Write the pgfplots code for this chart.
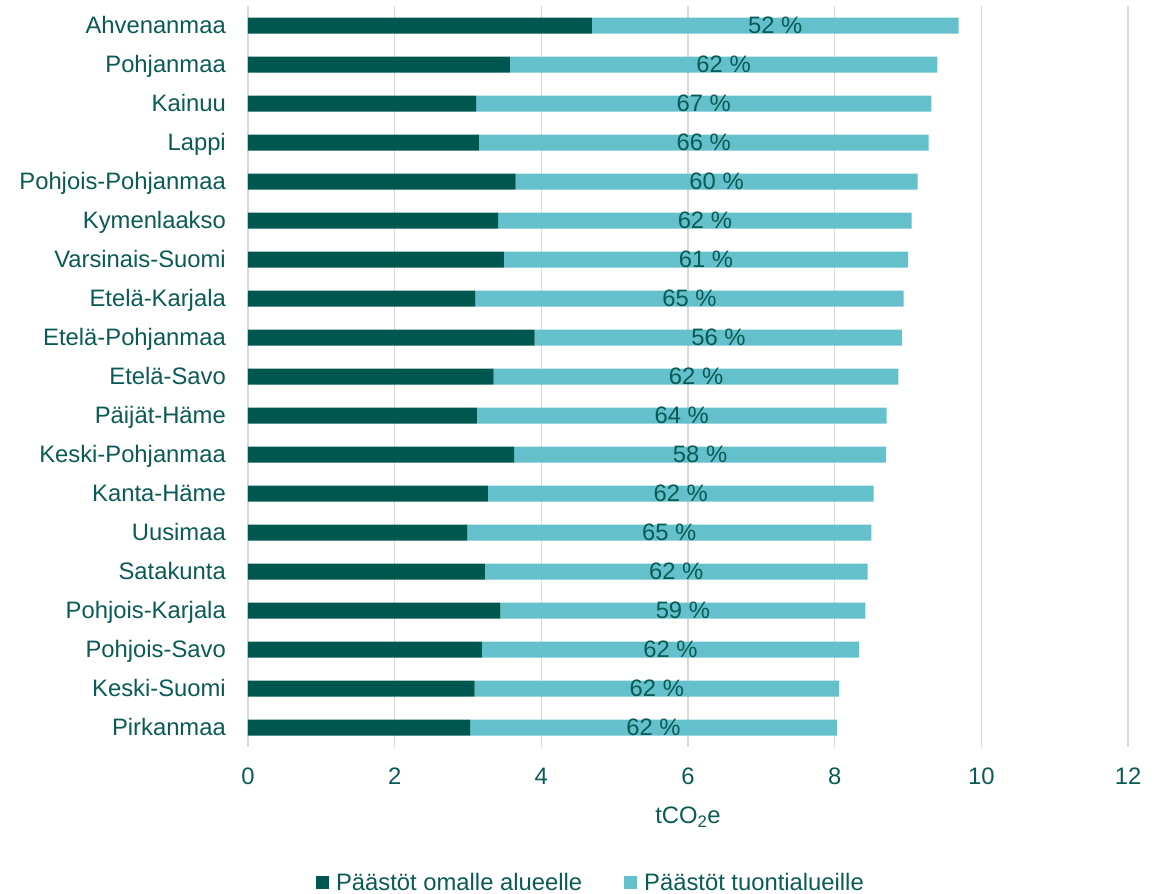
\documentclass[border=0pt]{standalone}
\usepackage{fontspec}
\setmainfont{Liberation Sans}
\usepackage{pgfplots}
\usepackage{pgfplotstable}
\pgfplotsset{compat=1.18}
\definecolor{dteal}{HTML}{00574F}
\definecolor{lteal}{HTML}{64C0CB}
\definecolor{tteal}{HTML}{0A5A55}
\definecolor{gridc}{HTML}{D9D9D9}
\pgfplotstableread{
idx a b lab
0 4.69 5.00 52
1 3.57 5.83 62
2 3.11 6.21 67
3 3.15 6.13 66
4 3.65 5.48 60
5 3.41 5.64 62
6 3.49 5.51 61
7 3.10 5.84 65
8 3.91 5.01 56
9 3.35 5.52 62
10 3.12 5.59 64
11 3.63 5.07 58
12 3.27 5.26 62
13 2.99 5.51 65
14 3.23 5.22 62
15 3.44 4.98 59
16 3.19 5.14 62
17 3.09 4.97 62
18 3.03 5.00 62
}\datatable
\begin{document}
\begin{tikzpicture}[font=\fontsize{23.8bp}{28bp}\selectfont]
\useasboundingbox (-248bp,-147bp) rectangle (920bp,747bp);
\begin{axis}[
  at={(0,0)}, anchor=south west,
  scale only axis, width=880bp, height=741bp,
  xbar stacked, bar width=16bp,
  xmin=0, xmax=12, xtick={0,2,...,12},
  ymin=-0.5, ymax=18.5, y dir=reverse,
  ytick={0,...,18},
  yticklabels={Ahvenanmaa,Pohjanmaa,Kainuu,Lappi,Pohjois-Pohjanmaa,Kymenlaakso,Varsinais-Suomi,Etelä-Karjala,Etelä-Pohjanmaa,Etelä-Savo,Päijät-Häme,Keski-Pohjanmaa,Kanta-Häme,Uusimaa,Satakunta,Pohjois-Karjala,Pohjois-Savo,Keski-Suomi,Pirkanmaa},
  axis line style={draw=none},
  major tick length=0pt,
  xmajorgrids, major grid style={gridc, line width=1.5bp},
  /pgf/number format/assume math mode=true,
  xticklabel style={anchor=base, inner sep=0pt, yshift=-37.4bp, text=tteal},
  yticklabel style={anchor=base east, inner sep=0pt, xshift=-22bp, yshift=-8.4bp, text=tteal},
  xlabel={tCO\textsubscript{2}e},
  xlabel style={at={(axis description cs:0.5,0)}, anchor=base, inner sep=0pt, yshift=-76.4bp, text=tteal},
  legend columns=2,
  legend style={draw=none, fill=none, at={(axis description cs:0.3886,-0.1825)}, anchor=center,
    inner sep=0pt, outer sep=0pt,
    nodes={inner sep=0pt},
    /tikz/every odd column/.append style={column sep=7bp},
    /tikz/every even column/.append style={column sep=42bp}},
  legend cell align=left,
  legend style={text=tteal},
]
\addplot[fill=dteal, draw=none,
  legend image code/.code={\fill[dteal] (0bp,-6.5bp) rectangle (13bp,6.5bp);}]
  table[x=a, y=idx] {\datatable};
\addlegendentry{Päästöt omalle alueelle}
\addplot[fill=lteal, draw=none,
  legend image code/.code={\fill[lteal] (0bp,-6.5bp) rectangle (13bp,6.5bp);}]
  table[x=b, y=idx] {\datatable};
\addlegendentry{Päästöt tuontialueille}
\end{axis}
\begin{axis}[
  at={(0,0)}, anchor=south west,
  scale only axis, width=880bp, height=741bp,
  xmin=0, xmax=12, ymin=-0.5, ymax=18.5, y dir=reverse,
  hide axis,
]
\addplot[only marks, mark=none,
  point meta=explicit symbolic,
  nodes near coords={\pgfplotspointmeta\ \%},
  nodes near coords align={center},
  nodes near coords style={text=tteal, anchor=center},
  ]
  table[x expr=\thisrow{a}+0.5*\thisrow{b}, y=idx, meta=lab] {\datatable};
\end{axis}
\end{tikzpicture}
\end{document}
